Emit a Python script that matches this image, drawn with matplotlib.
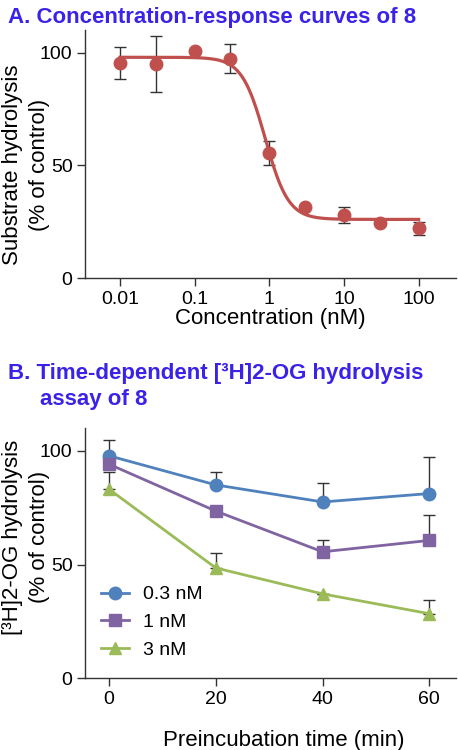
import numpy as np
import matplotlib
matplotlib.use("Agg")
import matplotlib.pyplot as plt

plt.rcParams['font.family'] = ['Liberation Sans', 'DejaVu Sans']

# Panel A: concentration-response data
conc = [0.01, 0.03, 0.1, 0.3, 1, 3, 10, 30, 100]
resp = [95.3, 95.0, 100.6, 97.2, 55.4, 31.3, 27.9, 24.5, 22.0]
resp_err = [7.0, 12.5, 0.0, 6.4, 5.4, 0.0, 3.4, 0.0, 3.0]

# fitted 4-parameter logistic parameters
fit_top = 97.9
fit_bottom = 26.0
fit_ic50 = 0.88
fit_hill = 2.8

# Panel B: time-dependent hydrolysis
times = [0, 20, 40, 60]
labels_b = ["0.3 nM", "1 nM", "3 nM"]
vals_b = [
    [97.8, 85.0, 77.5, 81.2],
    [94.1, 73.5, 55.6, 60.6],
    [83.1, 48.5, 37.1, 28.4],
]
errs_b = [
    [7.0, 5.7, 8.2, 15.9],
    [0.0, 0.0, 5.4, 11.2],
    [7.4, 6.6, 0.0, 6.2],
]
colors_b = ["#4F81BD", "#8064A2", "#9BBB59"]
markers_b = ["o", "s", "^"]

red = "#C0504D"
title_color = "#3A22E8"
fs_tick = 14
fs_xlab = 16
fs_ylab = 16
fs_leg = 14
fs_title = 16

fig = plt.figure(figsize=(4.58, 7.5), dpi=100)

def style(ax):
    ax.spines['top'].set_visible(False)
    ax.spines['right'].set_visible(False)
    for s in ['left', 'bottom']:
        ax.spines[s].set_color('#333333')
        ax.spines[s].set_linewidth(1.0)
    ax.tick_params(direction='out', length=6, width=1, color='#333333',
                   labelsize=fs_tick, pad=3)

def ylabel2(line1, line2, yc):
    # two-line rotated y label, each line placed on its own
    fig.text(13 / 458, 1 - yc / 750, line1, rotation=90, ha='center', va='center',
             fontsize=fs_ylab)
    fig.text(39 / 458, 1 - yc / 750, line2, rotation=90, ha='center', va='center',
             fontsize=fs_ylab)

# ---- Panel A
axA = fig.add_axes([0.1856, 0.6293, 0.81, 0.3307])
xc = np.logspace(-2, 2, 300)
yc = fit_bottom + (fit_top - fit_bottom) / (1 + (xc / fit_ic50) ** fit_hill)
axA.plot(xc, yc, color=red, lw=2.3, zorder=2)
axA.errorbar(conc, resp, yerr=resp_err, fmt='none', ecolor='#333333',
             elinewidth=1, capsize=4, capthick=1, zorder=1)
axA.plot(conc, resp, 'o', color=red, ms=9, zorder=3)
axA.set_xscale('log')
axA.set_xlim(0.0034, 316)
axA.set_ylim(0, 110)
axA.set_xticks([0.01, 0.1, 1, 10, 100])
axA.set_xticklabels(["0.01", "0.1", "1", "10", "100"])
axA.xaxis.set_minor_locator(matplotlib.ticker.NullLocator())
axA.set_yticks([0, 50, 100])
style(axA)
axA.set_xlabel("Concentration (nM)", fontsize=fs_xlab)
axA.xaxis.set_label_coords(0.5, -0.12)

ylabel2("Substrate hydrolysis", "(% of control)", 165)
fig.text(0.017, 1 - 18 / 750, "A. Concentration-response curves of 8", color=title_color,
         fontsize=fs_title, fontweight='bold', va='center', ha='left')

# ---- Panel B
axB = fig.add_axes([0.1856, 0.0956, 0.81, 0.3337])
for vals, errs, col, mk, lab in zip(vals_b, errs_b, colors_b, markers_b, labels_b):
    axB.errorbar(times, vals, yerr=[np.zeros(len(errs)), errs], fmt='none',
                 ecolor='#333333', elinewidth=1, capsize=4, capthick=1, zorder=1)
    axB.plot(times, vals, marker=mk, color=col, lw=2, ms=9, label=lab, zorder=3)
axB.set_xlim(-4.5, 65)
axB.set_ylim(0, 110)
axB.set_xticks([0, 20, 40, 60])
axB.set_yticks([0, 50, 100])
style(axB)
axB.set_xlabel("Preincubation time (min)", fontsize=fs_xlab)
axB.xaxis.set_label_coords(0.536, -0.205)
axB.legend(loc='upper left', bbox_to_anchor=(0.042, 0.37), frameon=False,
           fontsize=fs_leg, handlelength=1.45, labelspacing=0.52, handletextpad=0.75,
           borderpad=0, borderaxespad=0)

ylabel2("[³H]2-OG hydrolysis", "(% of control)", 537)
fig.text(0.017, 1 - 374 / 750, "B. Time-dependent [³H]2-OG hydrolysis", color=title_color,
         fontsize=fs_title, fontweight='bold', va='center', ha='left')
fig.text(40 / 458, 1 - 400 / 750, "assay of 8", color=title_color,
         fontsize=fs_title, fontweight='bold', va='center', ha='left')

fig.savefig("out.png", dpi=100)
